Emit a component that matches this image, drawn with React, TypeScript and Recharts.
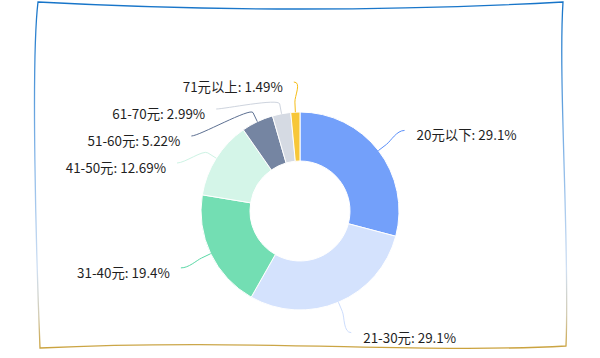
import React from "react";
import { PieChart, Pie, Cell } from "recharts";

const CATEGORIES = ["20元以下", "21-30元", "31-40元", "41-50元", "51-60元", "61-70元", "71元以上"];
const SHARES = [29.1, 29.1, 19.4, 12.69, 5.22, 2.99, 1.49];
const COLORS = ["#5B8FF9", "#CDDDFD", "#5AD8A6", "#CDF3E4", "#5D7092", "#CED4DE", "#F6BD16"];

const WIDTH = 600;
const HEIGHT = 358;
const CX = 300;
const CY = 211;
const OUTER = 99;
const INNER = 50;
const LABEL_R = OUTER + 33;
const LINE_GAP = 27;
const RAD = Math.PI / 180;

const data = CATEGORIES.map((name, i) => ({ name, value: SHARES[i] }));

type LabelPos = { x: number; y: number; left: boolean };

// same angles as the pie (start 90, clockwise), then push overlapping labels apart
function layoutLabels(values: number[]): LabelPos[] {
  const total = values.reduce((a, b) => a + b, 0);
  let cum = 0;
  const items = values.map((v, i) => {
    const mid = 90 - ((cum + v / 2) / total) * 360;
    cum += v;
    const x = CX + LABEL_R * Math.cos(mid * RAD);
    const y = CY - LABEL_R * Math.sin(mid * RAD);
    return { i, x, y, y0: y, left: x < CX };
  });
  const out: LabelPos[] = [];
  [true, false].forEach((side) => {
    const group = items.filter((it) => it.left === side).sort((a, b) => a.y - b.y);
    let prev = CY - LABEL_R + 3 - LINE_GAP;
    group.forEach((it) => {
      const y = Math.max(it.y, prev + LINE_GAP);
      prev = y;
      let x = it.x;
      if (Math.abs(y - it.y0) > 4) {
        const dy = y - CY;
        const dx = Math.sqrt(Math.max(0, LABEL_R * LABEL_R - dy * dy));
        x = side ? CX - dx : CX + dx;
      }
      out[it.i] = { x, y, left: side };
    });
  });
  return out;
}

const LABELS = layoutLabels(SHARES);

const renderLabel = (props: any) => {
  const { cx, cy, midAngle, outerRadius, index, name, value } = props;
  const pos = LABELS[index];
  const cos = Math.cos(-midAngle * RAD);
  const sin = Math.sin(-midAngle * RAD);
  const p0 = { x: cx + outerRadius * cos, y: cy + outerRadius * sin };
  const pA = { x: cx + (outerRadius + 10) * cos, y: cy + (outerRadius + 10) * sin };
  const c1 = { x: pA.x + 6 * cos, y: pA.y + 6 * sin };
  const c2 = { x: pos.x + (pos.left ? 8 : -8), y: pos.y };
  const d = `M${p0.x},${p0.y} L${pA.x},${pA.y} C${c1.x},${c1.y} ${c2.x},${c2.y} ${pos.x},${pos.y}`;
  return (
    <g key={`label-${index}`}>
      <path d={d} fill="none" stroke={COLORS[index]} strokeWidth={1} />
      <text
        x={pos.left ? pos.x - 11 : pos.x + 12}
        y={pos.y + 4}
        textAnchor={pos.left ? "end" : "start"}
        dominantBaseline="central"
        fontSize={13.4}
        fill="#1f1f1f"
        fontFamily='"Noto Sans CJK SC", "Noto Sans", sans-serif'
      >
        {`${name}: ${value}%`}
      </text>
    </g>
  );
};

const Frame = () => (
  <svg width={WIDTH} height={HEIGHT} style={{ position: "absolute", left: 0, top: 0 }}>
    <defs>
      <linearGradient id="frameGrad" x1="0" y1="0" x2="0" y2={HEIGHT} gradientUnits="userSpaceOnUse">
        <stop offset="0" stopColor="#1473c8" />
        <stop offset="0.4" stopColor="#7fb2e6" />
        <stop offset="0.75" stopColor="#cfdff3" />
        <stop offset="0.88" stopColor="#d3ccb4" />
        <stop offset="1" stopColor="#c8961a" />
      </linearGradient>
    </defs>
    <path
      d="M38,2 Q300,16 563,2 C558,80 570,250 566,346 C420,354 250,338 40,348 C36,250 31,60 38,2 Z"
      fill="none"
      stroke="url(#frameGrad)"
      strokeWidth={1.3}
    />
  </svg>
);

export default function App() {
  return (
    <div style={{ position: "absolute", left: 0, top: 0, width: WIDTH, height: HEIGHT, background: "#fff" }}>
      <Frame />
      <div style={{ position: "absolute", left: 0, top: 0 }}>
        <PieChart width={WIDTH} height={HEIGHT} margin={{ top: 0, right: 0, bottom: 0, left: 0 }}>
          <Pie
            data={data}
            dataKey="value"
            nameKey="name"
            cx={CX}
            cy={CY}
            innerRadius={INNER}
            outerRadius={OUTER}
            startAngle={90}
            endAngle={-270}
            stroke="#fff"
            strokeWidth={1}
            label={renderLabel}
            labelLine={false}
            isAnimationActive={false}
          >
            {data.map((_, i) => (
              <Cell key={`cell-${i}`} fill={COLORS[i]} fillOpacity={0.85} />
            ))}
          </Pie>
        </PieChart>
      </div>
    </div>
  );
}
